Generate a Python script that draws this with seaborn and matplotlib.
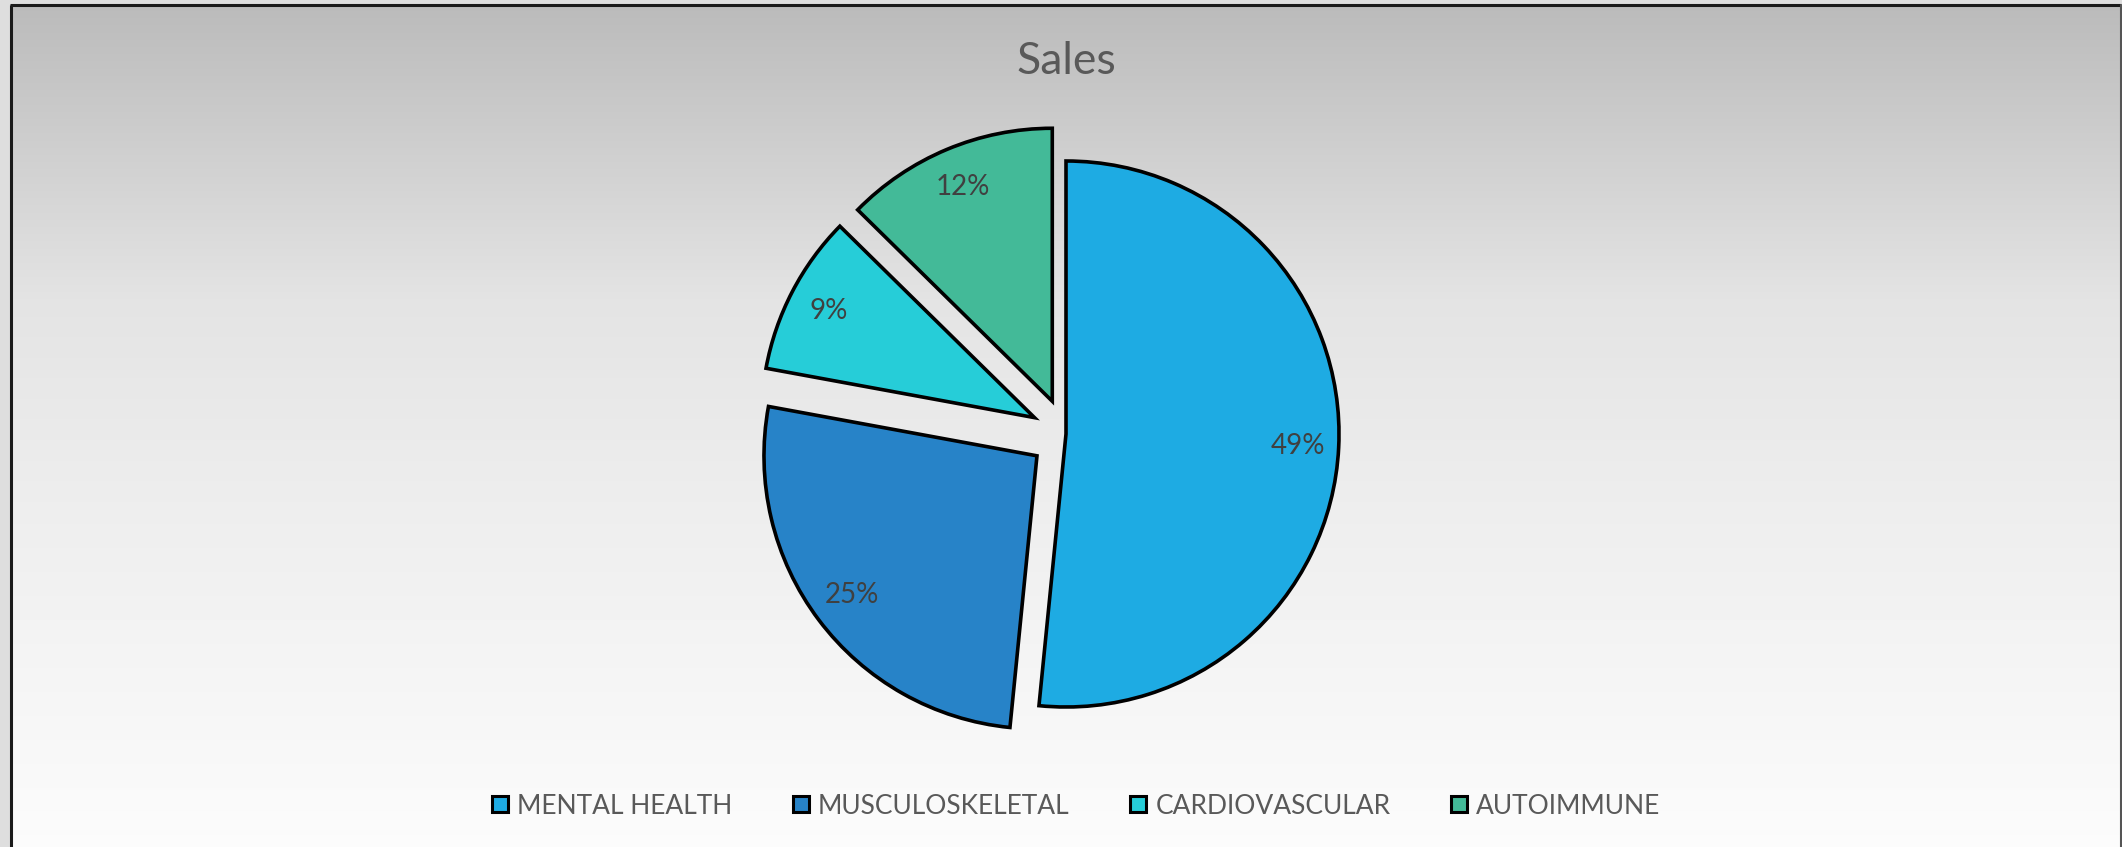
import numpy as np
import matplotlib
matplotlib.use("Agg")
import matplotlib.pyplot as plt
import seaborn as sns

# ---- data ----
categories = ["MENTAL HEALTH", "MUSCULOSKELETAL", "CARDIOVASCULAR", "AUTOIMMUNE"]
sales = [49, 25, 9, 12]
colors = ["#1EABE3", "#2783C8", "#26CDD8", "#43BA98"]
explode = [0.0, 0.133, 0.13, 0.13]
title = "Sales"

sns.set_theme(style="white")
plt.rcParams["font.family"] = ["Lato", "DejaVu Sans"]

W, H = 2122, 847
fig = plt.figure(figsize=(W / 100, H / 100), dpi=100)

# ---- background with gradient and frame ----
bg = fig.add_axes([0, 0, 1, 1], zorder=-5)
bg.set_xlim(0, W)
bg.set_ylim(H, 0)
bg.axis("off")
bg.add_patch(plt.Rectangle((0, 0), W, H, color="#DEDEDE", zorder=0))
t = np.linspace(0, 1, 512)
grad = np.interp(t, [0.0, 0.35, 0.6, 1.0], [0.735, 0.895, 0.935, 0.99]).reshape(-1, 1)
bg.imshow(np.dstack([grad, grad, grad]), extent=[11, W - 2, H, 6],
          aspect="auto", zorder=1, interpolation="bilinear")
bg.plot([10.5, 10.5], [H, 5.5], color="#1a1a1a", lw=2.2, zorder=2, solid_capstyle="butt")
bg.plot([10, W - 1], [5.5, 5.5], color="#1a1a1a", lw=2.2, zorder=2, solid_capstyle="butt")
bg.plot([W - 1, W - 1], [5.5, H], color="#555555", lw=1.5, zorder=2)

# ---- pie ----
r_px = 273
cx, cy = 1066, 434
L = 1.25
S = 2 * L * r_px
ax = fig.add_axes([(cx - S / 2) / W, (H - cy - S / 2) / H, S / W, S / H])
ax.set_xlim(-L, L)
ax.set_ylim(-L, L)
ax.set_aspect("equal")
ax.axis("off")
ax.patch.set_alpha(0)

total = sum(sales)
wedges, texts, autotexts = ax.pie(
    sales, colors=colors, explode=explode, startangle=90, counterclock=False,
    autopct=lambda p: f"{p * total / 100:.0f}%", pctdistance=0.85,
    wedgeprops=dict(edgecolor="black", linewidth=2.6, joinstyle="miter"),
    textprops=dict(color="#404040", fontsize=20), radius=1.0)

fig.text(cx / W, 1 - 73.5 / H, title, ha="center", va="baseline",
         fontsize=32, color="#595959")

handles = [plt.Line2D([], [], marker="s", linestyle="none", markersize=12,
                      markerfacecolor=c, markeredgecolor="black", markeredgewidth=2.2)
           for c in colors]
leg = fig.legend(handles, categories, loc="center", ncol=4,
                 bbox_to_anchor=(1075 / W, 1 - 806 / H), frameon=False,
                 fontsize=19, labelcolor="#595959", handlelength=0.8,
                 handletextpad=0.25, columnspacing=2.2)

fig.savefig("out.png", dpi=100)
